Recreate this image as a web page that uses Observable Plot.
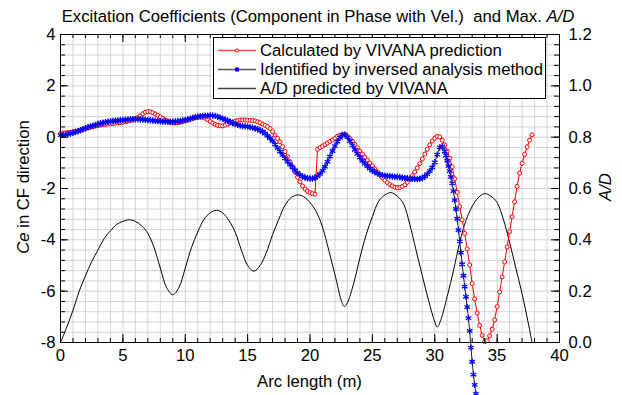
<!DOCTYPE html>
<html><head><meta charset="utf-8">
<script src="https://cdn.jsdelivr.net/npm/d3@7"></script>
<script src="https://cdn.jsdelivr.net/npm/@observablehq/plot@0.6"></script>
<style>body{margin:0;background:#fff}</style>
</head><body><div id="chart"></div>
<script>
// ---- data ----
const xTickLabels = [0, 5, 10, 15, 20, 25, 30, 35, 40];
const yTickLabels = [-8, -6, -4, -2, 0, 2, 4];
const rightTickLabels = ["0.0", "0.2", "0.4", "0.6", "0.8", "1.0", "1.2"];
const legendLabels = ["Calculated by VIVANA prediction", "Identified by inversed analysis method", "A/D predicted by VIVANA"];

// Calculated by VIVANA prediction (Ce), sampled every 0.2 m from 0 m
const redStep = 0.2;
const redCe = [
  0.15,0.16,0.17,0.18,0.19,0.21,0.23,0.25,0.27,0.30,
  0.33,0.36,0.39,0.41,0.43,0.45,0.47,0.49,0.50,0.51,
  0.52,0.53,0.55,0.56,0.57,0.58,0.60,0.62,0.65,0.68,
  0.72,0.76,0.83,0.91,0.97,1.00,0.99,0.95,0.90,0.85,
  0.79,0.73,0.67,0.62,0.58,0.56,0.55,0.56,0.58,0.61,
  0.64,0.67,0.70,0.73,0.75,0.77,0.78,0.77,0.74,0.68,
  0.61,0.55,0.50,0.46,0.44,0.44,0.47,0.51,0.55,0.59,
  0.62,0.65,0.67,0.67,0.67,0.66,0.66,0.65,0.63,0.60,
  0.56,0.51,0.46,0.41,0.34,0.22,0.08,-0.05,-0.18,-0.37,
  -0.56,-0.76,-0.96,-1.16,-1.36,-1.56,-1.74,-1.90,-2.02,-2.10,
  -2.16,-2.20,-2.22,-0.47,-0.41,-0.35,-0.29,-0.23,-0.17,-0.11,
  -0.04,0.03,0.08,0.10,0.09,0.03,-0.06,-0.16,-0.28,-0.41,
  -0.54,-0.66,-0.78,-0.89,-1.01,-1.12,-1.24,-1.36,-1.48,-1.58,
  -1.68,-1.77,-1.85,-1.90,-1.95,-1.97,-1.96,-1.92,-1.86,-1.76,
  -1.64,-1.50,-1.36,-1.20,-1.03,-0.85,-0.66,-0.47,-0.30,-0.15,
  -0.04,0.03,0.01,-0.12,-0.30,-0.54,-0.82,-1.15,-1.62,-2.15,
  -2.70,-3.22,-3.75,-4.35,-4.98,-5.70,-6.30,-6.85,-7.33,-7.72,
  -7.97,-7.93,-7.74,-7.48,-7.12,-6.60,-6.03,-5.45,-4.86,-4.28,
  -3.68,-3.10,-2.52,-1.92,-1.40,-1.02,-0.67,-0.38,-0.12,0.09
];

// Identified by inversed analysis method (Ce), every 0.2 m from 0 to 30.8 m
const blueStep = 0.2;
const blueCe = [
  0.08,0.09,0.10,0.12,0.14,0.17,0.20,0.23,0.27,0.31,
  0.35,0.39,0.42,0.45,0.48,0.51,0.54,0.56,0.58,0.60,
  0.62,0.63,0.64,0.65,0.66,0.67,0.68,0.69,0.70,0.70,
  0.70,0.70,0.70,0.69,0.68,0.67,0.66,0.65,0.64,0.63,
  0.62,0.61,0.61,0.60,0.60,0.60,0.61,0.62,0.63,0.65,
  0.67,0.69,0.72,0.75,0.78,0.80,0.82,0.83,0.84,0.84,
  0.85,0.84,0.83,0.80,0.76,0.72,0.68,0.64,0.60,0.55,
  0.51,0.48,0.45,0.43,0.42,0.41,0.39,0.37,0.34,0.31,
  0.27,0.21,0.14,0.05,-0.04,-0.15,-0.28,-0.42,-0.56,-0.69,
  -0.82,-0.95,-1.07,-1.18,-1.29,-1.39,-1.47,-1.53,-1.57,-1.60,
  -1.61,-1.61,-1.58,-1.52,-1.43,-1.31,-1.15,-0.96,-0.75,-0.54,
  -0.35,-0.17,-0.02,0.09,0.11,0.00,-0.15,-0.32,-0.49,-0.65,
  -0.79,-0.92,-1.03,-1.13,-1.22,-1.30,-1.36,-1.41,-1.45,-1.48,
  -1.50,-1.51,-1.52,-1.53,-1.54,-1.55,-1.56,-1.58,-1.59,-1.60,
  -1.61,-1.62,-1.63,-1.63,-1.62,-1.59,-1.53,-1.44,-1.32,-1.18,
  -0.98,-0.68,-0.40,-0.36,-0.56
];
// steep descending tail of the identified curve
const blueTailX = [30.9,31.0,31.1,31.2,31.3,31.4,31.5,31.6,31.7,31.8,31.9,32.0,32.1,32.2,32.3,32.4,32.5,32.6,32.7,32.8,32.9,33.0,33.1,33.2,33.3];
const blueTailCe = [-0.72,-0.92,-1.12,-1.32,-1.55,-1.80,-2.10,-2.45,-2.80,-3.18,-3.62,-4.06,-4.50,-4.95,-5.40,-5.82,-6.22,-6.62,-7.05,-7.55,-8.20,-8.75,-9.25,-9.65,-10.00];

// A/D predicted by VIVANA (right axis)
const adX = [0,0.5,1,1.5,2,2.5,3,3.5,4,4.5,5,5.5,6,6.5,7,7.5,8,8.5,9,9.5,10,10.5,11,11.5,12,12.5,13,13.5,14,14.5,15,15.5,16,16.5,17,17.5,18,18.5,19,19.5,20,20.5,21,21.5,22,22.5,22.75,23,23.5,24,24.5,25,25.5,26,26.5,27,27.5,28,28.5,29,29.5,30,30.2,30.5,31,31.5,32,32.5,33,33.5,34,34.5,35,35.5,36,36.5,37,37.5,37.8];
const adVal = [0.00,0.06,0.125,0.20,0.26,0.315,0.36,0.405,0.435,0.46,0.472,0.478,0.472,0.455,0.425,0.37,0.29,0.215,0.186,0.215,0.29,0.37,0.43,0.48,0.505,0.515,0.505,0.475,0.43,0.36,0.30,0.278,0.30,0.35,0.42,0.48,0.535,0.565,0.575,0.568,0.545,0.51,0.45,0.36,0.265,0.165,0.14,0.155,0.23,0.33,0.42,0.49,0.55,0.575,0.584,0.57,0.54,0.46,0.36,0.26,0.165,0.08,0.06,0.09,0.18,0.28,0.39,0.475,0.53,0.565,0.58,0.57,0.545,0.48,0.39,0.29,0.19,0.075,0.00];

// ---- layout ----
const W = 622, H = 395, mL = 60, mR = 63, mT = 34, mB = 53;
const pw = W - mL - mR, ph = H - mT - mB;
const FONT = "'Liberation Sans', Arial, Helvetica, sans-serif";
const FS = 16.7;

const xMinor = d3.range(0, 41);
const yMinor = d3.range(0, 31).map(i => +(-8 + i * 0.4).toFixed(2));

const red = redCe.map((v, i) => ({x: +(i * redStep).toFixed(2), y: v}));
const blue = blueCe.map((v, i) => ({x: +(i * blueStep).toFixed(2), y: v}))
  .concat(blueTailX.map((x, i) => ({x, y: blueTailCe[i]})));
const ad = adX.map((x, i) => ({x, y: adVal[i] * 10 - 8})); // map A/D (0..1.2) onto Ce axis (-8..4)

const grid = "#d4d4d4";
const svg = Plot.plot({
  width: W, height: H,
  marginLeft: mL, marginRight: mR, marginTop: mT, marginBottom: mB,
  style: {fontFamily: FONT, fontSize: FS + "px", background: "white", overflow: "visible", color: "black"},
  x: {domain: [0, 40], axis: null},
  y: {domain: [-8, 4], axis: null},
  marks: [
    Plot.ruleX(xMinor, {stroke: grid, strokeWidth: 1}),
    Plot.ruleY(yMinor, {stroke: grid, strokeWidth: 1}),
    Plot.line(ad, {x: "x", y: "y", stroke: "black", strokeWidth: 1, curve: "catmull-rom"}),
    Plot.line(red, {x: "x", y: "y", stroke: "red", strokeWidth: 1}),
    Plot.dot(red, {x: "x", y: "y", r: 2, stroke: "red", fill: "white", strokeWidth: 1}),
    Plot.line(blue, {x: "x", y: "y", stroke: "#222", strokeWidth: 1}),
    Plot.dot(blue, {x: "x", y: "y", symbol: "asterisk", r: 3, stroke: "blue", strokeWidth: 1.3}),
    Plot.frame({stroke: "black", strokeWidth: 1}),
    // inward ticks: bottom, top, left, right
    Plot.ruleX(xMinor, {stroke: "black", insetTop: ph - 4}),
    Plot.ruleX(xTickLabels, {stroke: "black", insetTop: ph - 8}),
    Plot.ruleX(xMinor, {stroke: "black", insetBottom: ph - 4}),
    Plot.ruleX(xTickLabels, {stroke: "black", insetBottom: ph - 8}),
    Plot.ruleY(yMinor, {stroke: "black", insetRight: pw - 5}),
    Plot.ruleY(yTickLabels, {stroke: "black", insetRight: pw - 8}),
    Plot.ruleY(yMinor, {stroke: "black", insetLeft: pw - 5}),
    Plot.ruleY(yTickLabels, {stroke: "black", insetLeft: pw - 8}),
    // tick labels
    Plot.text(xTickLabels, {x: d => d, frameAnchor: "bottom", dy: 18, text: d => String(d), fontSize: FS, fill: "black"}),
    Plot.text(yTickLabels, {y: d => d, frameAnchor: "left", dx: -5, textAnchor: "end", text: d => String(d), fontSize: FS, fill: "black"}),
    Plot.text(yTickLabels, {y: d => d, frameAnchor: "right", dx: 9, textAnchor: "start", text: (d, i) => rightTickLabels[i], fontSize: FS, fill: "black"})
  ]
});
document.getElementById("chart").appendChild(svg);

const s = d3.select(svg);
const txt = (x, y, anchor = "middle") => s.append("text").attr("x", x).attr("y", y)
  .attr("font-family", FONT).attr("font-size", FS).attr("fill", "black")
  .attr("text-anchor", anchor).style("white-space", "pre");

// title
const t = txt(318, 22);
t.append("tspan").text("Excitation Coefficients (Component in Phase with Vel.)  and Max. ");
t.append("tspan").attr("font-style", "italic").text("A/D");
// x label
txt(mL + pw / 2, 387).text("Arc length (m)");
// left y label
const yl = txt(0, 0).attr("transform", `translate(29,187) rotate(-90)`);
yl.append("tspan").attr("font-style", "italic").text("Ce");
yl.append("tspan").text(" in CF direction");
// right y label
txt(0, 0).attr("transform", `translate(611,187) rotate(-90)`).attr("font-style", "italic").text("A/D");

// legend
const lg = s.append("g");
lg.append("rect").attr("x", 213.5).attr("y", 37.5).attr("width", 332).attr("height", 61)
  .attr("fill", "white").attr("stroke", "black").attr("stroke-width", 1);
const rows = [50.5, 69.5, 88.5];
const lineCols = ["#ff4a4a", "#555", "#444"];
rows.forEach((ry, i) => {
  lg.append("line").attr("x1", 218).attr("x2", 256).attr("y1", ry).attr("y2", ry)
    .attr("stroke", lineCols[i]).attr("stroke-width", 1.3);
  txt(260, ry, "start").attr("dy", "0.35em").text(legendLabels[i]);
});
lg.append("circle").attr("cx", 237).attr("cy", rows[0]).attr("r", 1.6).attr("fill", "white").attr("stroke", "red");
lg.append("rect").attr("x", 235).attr("y", rows[1] - 2).attr("width", 4).attr("height", 4).attr("fill", "blue");
</script>
</body></html>
